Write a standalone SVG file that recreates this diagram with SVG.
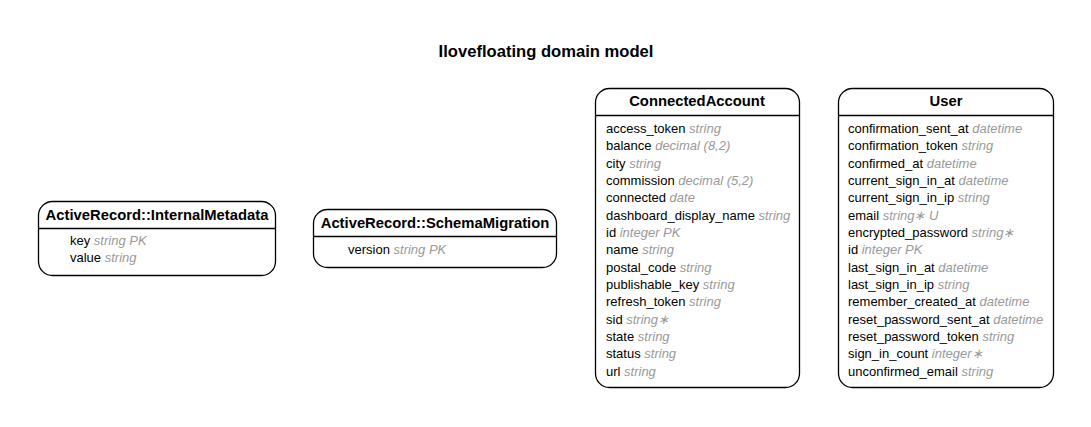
<svg xmlns="http://www.w3.org/2000/svg" width="1091" height="427" viewBox="0 0 1091 427">
<style>
.box{fill:#fff;stroke:#000;stroke-width:1.3}
.sep{stroke:#000;stroke-width:1.3}
.title{font-family:"Liberation Sans",Arial,sans-serif;font-size:14.8px;font-weight:bold;fill:#000;text-anchor:middle}
.row{font-family:"Liberation Sans",Arial,sans-serif;font-size:13px;fill:#000}
.t{font-style:italic;fill:#999}
.h{font-family:"Liberation Sans",Arial,sans-serif;font-size:16.6px;font-weight:bold;fill:#000;text-anchor:middle}
</style>
<rect width="1091" height="427" fill="#fff"/>
<text class="h" x="546" y="57">Ilovefloating domain model</text>
<g id="connectors"/>
<g id="InternalMetadata">
<rect class="box" x="38.5" y="201.5" width="237" height="74" rx="14"/>
<line class="sep" x1="38.5" y1="228.5" x2="275.5" y2="228.5"/>
<text class="title" x="157" y="220">ActiveRecord::InternalMetadata</text>
<text class="row" x="70" y="245">key <tspan class="t">string PK</tspan></text>
<text class="row" x="70" y="262">value <tspan class="t">string</tspan></text>
</g>
<g id="SchemaMigration">
<rect class="box" x="313.5" y="209.5" width="243" height="58" rx="14"/>
<line class="sep" x1="313.5" y1="236.5" x2="556.5" y2="236.5"/>
<text class="title" x="435" y="228">ActiveRecord::SchemaMigration</text>
<text class="row" x="348" y="254">version <tspan class="t">string PK</tspan></text>
</g>
<g id="ConnectedAccount">
<rect class="box" x="595.5" y="88.5" width="204" height="299" rx="14"/>
<line class="sep" x1="595.5" y1="115.5" x2="799.5" y2="115.5"/>
<text class="title" x="697" y="106">ConnectedAccount</text>
<text class="row" x="606" y="133">access_token <tspan class="t">string</tspan></text>
<text class="row" x="606" y="150">balance <tspan class="t">decimal (8,2)</tspan></text>
<text class="row" x="606" y="168">city <tspan class="t">string</tspan></text>
<text class="row" x="606" y="185">commission <tspan class="t">decimal (5,2)</tspan></text>
<text class="row" x="606" y="202">connected <tspan class="t">date</tspan></text>
<text class="row" x="606" y="220">dashboard_display_name <tspan class="t">string</tspan></text>
<text class="row" x="606" y="237">id <tspan class="t">integer PK</tspan></text>
<text class="row" x="606" y="254">name <tspan class="t">string</tspan></text>
<text class="row" x="606" y="272">postal_code <tspan class="t">string</tspan></text>
<text class="row" x="606" y="289">publishable_key <tspan class="t">string</tspan></text>
<text class="row" x="606" y="306">refresh_token <tspan class="t">string</tspan></text>
<text class="row" x="606" y="324">sid <tspan class="t">string∗</tspan></text>
<text class="row" x="606" y="341">state <tspan class="t">string</tspan></text>
<text class="row" x="606" y="358">status <tspan class="t">string</tspan></text>
<text class="row" x="606" y="376">url <tspan class="t">string</tspan></text>
</g>
<g id="User">
<rect class="box" x="838.5" y="88.5" width="215" height="299" rx="14"/>
<line class="sep" x1="838.5" y1="115.5" x2="1053.5" y2="115.5"/>
<text class="title" x="946" y="106">User</text>
<text class="row" x="848" y="133">confirmation_sent_at <tspan class="t">datetime</tspan></text>
<text class="row" x="848" y="150">confirmation_token <tspan class="t">string</tspan></text>
<text class="row" x="848" y="168">confirmed_at <tspan class="t">datetime</tspan></text>
<text class="row" x="848" y="185">current_sign_in_at <tspan class="t">datetime</tspan></text>
<text class="row" x="848" y="202">current_sign_in_ip <tspan class="t">string</tspan></text>
<text class="row" x="848" y="220">email <tspan class="t">string∗ U</tspan></text>
<text class="row" x="848" y="237">encrypted_password <tspan class="t">string∗</tspan></text>
<text class="row" x="848" y="254">id <tspan class="t">integer PK</tspan></text>
<text class="row" x="848" y="272">last_sign_in_at <tspan class="t">datetime</tspan></text>
<text class="row" x="848" y="289">last_sign_in_ip <tspan class="t">string</tspan></text>
<text class="row" x="848" y="306">remember_created_at <tspan class="t">datetime</tspan></text>
<text class="row" x="848" y="324">reset_password_sent_at <tspan class="t">datetime</tspan></text>
<text class="row" x="848" y="341">reset_password_token <tspan class="t">string</tspan></text>
<text class="row" x="848" y="358">sign_in_count <tspan class="t">integer∗</tspan></text>
<text class="row" x="848" y="376">unconfirmed_email <tspan class="t">string</tspan></text>
</g>
</svg>
